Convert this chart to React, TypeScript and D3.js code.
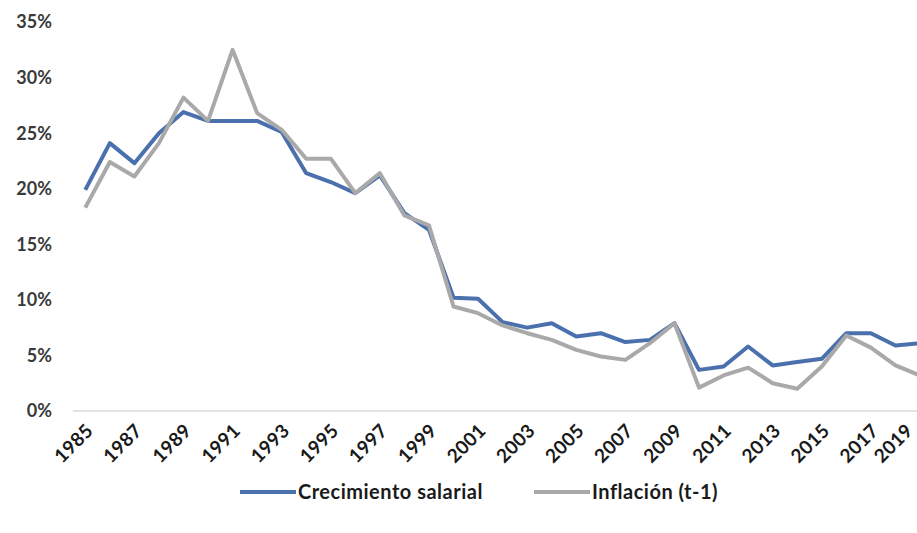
import React from "react";
import * as d3 from "d3";

const years: string[] = [
  "1985","1986","1987","1988","1989","1990","1991","1992","1993","1994",
  "1995","1996","1997","1998","1999","2000","2001","2002","2003","2004",
  "2005","2006","2007","2008","2009","2010","2011","2012","2013","2014",
  "2015","2016","2017","2018","2019",
];
const salarial: number[] = [
  19.9, 24.1, 22.3, 25.0, 26.9, 26.1, 26.1, 26.1, 25.1, 21.4,
  20.6, 19.6, 21.2, 17.8, 16.3, 10.2, 10.1, 8.0, 7.5, 7.9,
  6.7, 7.0, 6.2, 6.4, 7.9, 3.7, 4.0, 5.8, 4.1, 4.4,
  4.7, 7.0, 7.0, 5.9, 6.1,
];
const inflacion: number[] = [
  18.3, 22.4, 21.1, 24.1, 28.2, 26.1, 32.5, 26.8, 25.3, 22.7,
  22.7, 19.6, 21.4, 17.6, 16.7, 9.4, 8.8, 7.7, 7.0, 6.4,
  5.5, 4.9, 4.6, 6.1, 7.9, 2.1, 3.2, 3.9, 2.5, 2.0,
  4.0, 6.8, 5.7, 4.1, 3.2,
];
const yTicks: number[] = [0, 5, 10, 15, 20, 25, 30, 35];
const seriesNames: string[] = ["Crecimiento salarial", "Inflación (t-1)"];
const seriesColors: string[] = ["#4a70ad", "#a9a9a9"];

const W = 917;
const H = 533;
const FONT = "Lato, 'Open Sans', sans-serif";

export default function App() {
  const x = d3.scaleBand<string>().domain(years).range([73, 73 + 35 * 24.55]);
  const y = d3.scaleLinear().domain([0, 35]).range([411, 22]);
  const cx = (d: string) => (x(d) as number) + x.bandwidth() / 2;
  const line = d3
    .line<number>()
    .x((_, i) => cx(years[i]))
    .y((v) => y(v));
  const series = [salarial, inflacion];
  const labelYears = years.filter((_, i) => i % 2 === 0);

  return (
    <svg
      width={W}
      height={H}
      style={{ position: "absolute", left: 0, top: 0, background: "#fff" }}
      fontFamily={FONT}
    >
      <rect x={0} y={0} width={W} height={H} fill="#fff" />
      {/* y labels */}
      {yTicks.map((t) => (
        <text
          key={t}
          x={52}
          y={y(t)}
          dy="0.36em"
          textAnchor="end"
          fontSize={18}
          fontWeight={700}
          fill="#3a3a3a"
        >
          {t}%
        </text>
      ))}
      {/* baseline */}
      <line x1={73} x2={W} y1={y(0)} y2={y(0)} stroke="#d9d9d9" strokeWidth={1.5} />
      {/* x labels */}
      {labelYears.map((d) => {
        const px = Math.min(cx(d) + 9, W - 3);
        return (
          <text
            key={d}
            transform={`translate(${px},${432}) rotate(-45)`}
            textAnchor="end"
            fontSize={19}
            fontWeight={700}
            letterSpacing={0.3}
            fill="#1a1a1a"
          >
            {d}
          </text>
        );
      })}
      {/* lines */}
      {[0, 1].map((k) => (
        <path
          key={k}
          d={line(series[k]) as string}
          fill="none"
          stroke={seriesColors[k]}
          strokeWidth={4}
          strokeLinejoin="round"
        />
      ))}
      {/* legend */}
      {[0, 1].map((k) => {
        const lx = k === 0 ? 240 : 534;
        return (
          <g key={k}>
            <line x1={lx} x2={lx + 56} y1={492} y2={492} stroke={seriesColors[k]} strokeWidth={4} />
            <text
              x={lx + 58}
              y={492}
              dy="0.36em"
              fontSize={20}
              fontWeight={700}
              letterSpacing={0.5}
              fill="#1a1a1a"
            >
              {seriesNames[k]}
            </text>
          </g>
        );
      })}
    </svg>
  );
}
